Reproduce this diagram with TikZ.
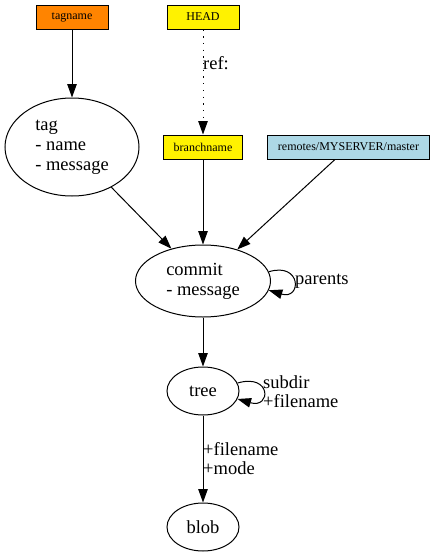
\documentclass[tikz,border=0pt]{standalone}
\usepackage{fontspec}
\setmainfont{Liberation Serif}
\newfontfamily\gvfont{Liberation Serif}
\usetikzlibrary{calc, arrows.meta, shapes.geometric}
\definecolor{tagorange}{HTML}{FF8400}
\definecolor{remoteblue}{HTML}{ADD8E6}

\begin{document}
\begin{tikzpicture}[x=1pt,y=-1pt,
            refbox/.style={draw,rectangle,line width=1pt,minimum width=72pt,minimum height=24pt,inner xsep=10pt,inner ysep=0pt,font=\gvfont\fontsize{12}{14}\selectfont},
            objnode/.style={draw,ellipse,line width=1pt,inner sep=0pt,align=left,font=\gvfont\fontsize{18.5}{20}\selectfont},
            edge/.style={line width=1pt,-{Triangle[length=13.5pt,width=9.5pt]}},
            edgelbl/.style={anchor=west,inner sep=0pt,align=left,font=\gvfont\fontsize{18.5}{19}\selectfont}]
            \useasboundingbox (0,0) rectangle (435,557);
            \node[refbox,fill=tagorange] (tagname) at (72,17) {tagname};
            \node[refbox,fill=yellow] (head) at (203,17) {HEAD};
            \node[refbox,fill=yellow] (branchname) at (203,147) {branchname};
            \node[refbox,fill=remoteblue] (remote) at (348.5,147) {remotes/MYSERVER/master};
            \node[objnode,minimum width=134pt,minimum height=98pt] (tag) at (72,147) {tag\\- name\\- message};
            \node[objnode,minimum width=135pt,minimum height=72pt] (commit) at (203,281) {commit\\- message};
            \node[objnode,minimum width=72pt,minimum height=48pt] (tree) at (203,391) {tree};
            \node[objnode,minimum width=72pt,minimum height=48pt] (blob) at (203,527) {blob};
            \draw[edge] (tagname) -- (tag);
            \draw[edge,dash pattern=on 1.3pt off 5.4pt] (head) -- (branchname);
            \node[edgelbl] (reflbl) at (203,63) {ref:};
            \draw[edge] (tag) -- (commit);
            \draw[edge] (branchname) -- (commit);
            \draw[edge] (remote) -- (commit);
            \draw[edge] (commit.8) .. controls +(33,-10) and +(33,10) .. (commit.-8);
            \node[edgelbl] (parentslbl) at (295,281) {parents};
            \draw[edge] (commit) -- (tree);
            \draw[edge] (tree.13) .. controls +(34,-10) and +(34,10) .. (tree.-13);
            \node[edgelbl] (subdirlbl) at (263,392) {subdir\\+filename};
            \draw[edge] (tree) -- (blob);
            \node[edgelbl] (modelbl) at (203,459) {+filename\\+mode};
\end{tikzpicture}
\end{document}
